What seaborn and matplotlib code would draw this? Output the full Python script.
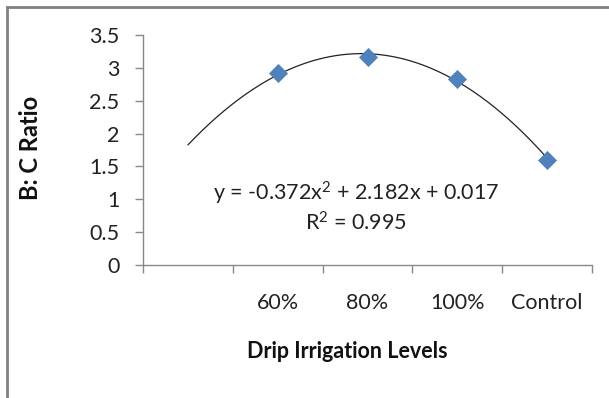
import numpy as np
import pandas as pd
import matplotlib
matplotlib.use("Agg")
import matplotlib.pyplot as plt
import seaborn as sns

# ---- data ----
categories = ["", "60%", "80%", "100%", "Control"]
point_categories = ["60%", "80%", "100%", "Control"]
bc_ratio = [2.92, 3.17, 2.83, 1.60]
trend_coef = [-0.372, 2.182, 0.017]  # y = a x^2 + b x + c (x = 1..5 category index)
eq_text = r"y = -0.372x$^{\mathrm{2}}$ + 2.182x + 0.017"
r2_text = r"R$^{\mathrm{2}}$ = 0.995"
y_ticks = [0, 0.5, 1, 1.5, 2, 2.5, 3, 3.5]
y_tick_labels = ["0", "0.5", "1", "1.5", "2", "2.5", "3", "3.5"]

sns.set_style("white")
plt.rcParams["font.family"] = ["Lato", "DejaVu Sans"]
plt.rcParams["mathtext.fontset"] = "custom"
plt.rcParams["mathtext.rm"] = "Lato"
plt.rcParams["mathtext.it"] = "Lato:italic"
plt.rcParams["mathtext.bf"] = "Lato:bold"
FS = 15.5

fig = plt.figure(figsize=(6.09, 3.98), dpi=100)
ax = fig.add_axes([143 / 609, 1 - 265 / 398, 449 / 609, 230 / 398])

pos = {c: i for i, c in enumerate(categories)}
df = pd.DataFrame({"x": [pos[c] for c in point_categories], "y": bc_ratio})

# trendline evaluated from the fitted coefficients, from first to last category
xs = np.linspace(1, len(categories), 200)
ys = np.polyval(trend_coef, xs)
tl = pd.DataFrame({"x": xs - 1, "y": ys})
sns.lineplot(data=tl, x="x", y="y", ax=ax, color="#222222", linewidth=0.9, zorder=2)

sns.scatterplot(data=df, x="x", y="y", ax=ax, marker="D", s=85,
                color="#4F81BD", edgecolor="#4F81BD", linewidth=0.5, zorder=3)

ax.set_xlim(-0.5, len(categories) - 0.5)
ax.set_ylim(0, 3.5)

# category axis: ticks at boundaries, labels centred
ax.set_xticks(np.arange(-0.5, len(categories), 1.0))
ax.set_xticklabels([])
ax.set_xticks(np.arange(len(categories)), minor=True)
ax.set_xticklabels(categories, minor=True)
ax.tick_params(axis="x", which="major", direction="out", length=6, width=1,
               color="#888888", bottom=True)
ax.tick_params(axis="x", which="minor", length=0, pad=20, labelsize=FS,
               labelcolor="#222222")

ax.set_yticks(y_ticks)
ax.set_yticklabels(y_tick_labels)
ax.tick_params(axis="y", direction="out", length=6, width=1, color="#888888",
               left=True, pad=11, labelsize=FS, labelcolor="#222222")

for s in ["top", "right"]:
    ax.spines[s].set_visible(False)
for s in ["left", "bottom"]:
    ax.spines[s].set_color("#888888")
    ax.spines[s].set_linewidth(1)

ax.set_xlabel("Drip Irrigation Levels", fontsize=FS, fontweight="bold", color="#111111")
ax.xaxis.set_label_coords((347 - 143) / 449, (265 - 341) / 230)
ax.set_ylabel("B: C Ratio", fontsize=FS + 1.5, fontweight="bold", color="#111111")
ax.yaxis.set_label_coords((42 - 143) / 449, (265 - 148) / 230)

ax.text((356 - 143) / 449, (265 - 193) / 230, eq_text, transform=ax.transAxes,
        ha="center", va="center", fontsize=FS, color="#222222")
ax.text((356 - 143) / 449, (265 - 223) / 230, r2_text, transform=ax.transAxes,
        ha="center", va="center", fontsize=FS, color="#222222")

# outer chart border
fig.patches.append(plt.Rectangle((7 / 609, -0.05), 1.2, 1 - 7 / 398 + 0.05,
                                 transform=fig.transFigure, fill=False,
                                 edgecolor="#808080", linewidth=2, zorder=0))

fig.savefig("out.png", dpi=100, facecolor="white")
